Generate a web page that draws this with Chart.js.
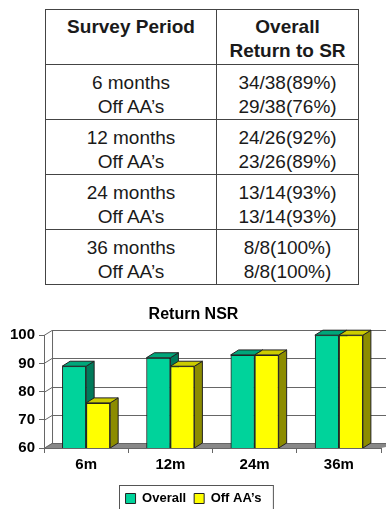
<!DOCTYPE html>
<html>
<head>
<meta charset="utf-8">
<script src="https://cdn.jsdelivr.net/npm/chart.js@4/dist/chart.umd.min.js"></script>
<style>
  html, body { margin: 0; padding: 0; background: #fff; }
  body { width: 386px; height: 509px; position: relative; overflow: hidden; font-family: "Liberation Sans", Arial, sans-serif; color: #1a1a1a; }
  table.survey { position: absolute; left: 45px; top: 9px; width: 313px; border-collapse: collapse; table-layout: fixed; }
  table.survey td, table.survey th { border: 1.5px solid #444; text-align: center; vertical-align: top; font-size: 19px; line-height: 24px; height: 55px; box-sizing: border-box; padding: 6px 0 0 0; }
  table.survey th { font-weight: bold; padding-top: 5px; }
  #wrap { position: absolute; left: 0; top: 290px; width: 386px; height: 225px; }
</style>
</head>
<body>
<table class="survey" id="tbl">
  <colgroup><col style="width:171px"><col style="width:142px"></colgroup>
  <thead><tr><th>Survey Period</th><th>Overall<br>Return to SR</th></tr></thead>
  <tbody></tbody>
</table>
<div id="wrap"><canvas id="c" width="386" height="225"></canvas></div>
<script>
// Survey table rows
const periods = ['6 months', '12 months', '24 months', '36 months'];
const overallCounts = ['34/38', '24/26', '13/14', '8/8'];
const offAACounts = ['29/38', '23/26', '13/14', '8/8'];

// Chart data (percent returning to NSR)
const categories = ['6m', '12m', '24m', '36m'];
const overall = [89, 92, 93, 100];
const offAAs = [76, 89, 93, 100];
const yTicks = [60, 70, 80, 90, 100];

const tbody = document.querySelector('#tbl tbody');
periods.forEach((p, i) => {
  const tr = document.createElement('tr');
  const a = document.createElement('td');
  a.innerHTML = p + '<br>Off AA\u2019s';
  const b = document.createElement('td');
  b.innerHTML = overallCounts[i] + '(' + overall[i] + '%)<br>' + offAACounts[i] + '(' + offAAs[i] + '%)';
  tr.appendChild(a); tr.appendChild(b);
  tbody.appendChild(tr);
});

// 3D depth projection
const DX = 8, DY = 5;

function poly(ctx, pts, fill, stroke) {
  ctx.beginPath();
  ctx.moveTo(pts[0][0], pts[0][1]);
  for (let i = 1; i < pts.length; i++) ctx.lineTo(pts[i][0], pts[i][1]);
  ctx.closePath();
  if (fill) { ctx.fillStyle = fill; ctx.fill(); }
  if (stroke) { ctx.strokeStyle = stroke; ctx.lineWidth = 1; ctx.stroke(); }
}

const wallPlugin = {
  id: 'wall3d',
  beforeDatasetsDraw(chart) {
    const {ctx, chartArea: a, scales: {y}} = chart;
    ctx.save();
    // floor
    const b = y.getPixelForValue(yTicks[0]);
    poly(ctx, [[a.left, b], [a.left + DX, b - DY], [a.right + DX + 20, b - DY], [a.right, b]], '#888', null);
    ctx.strokeStyle = '#666';
    ctx.lineWidth = 1;
    // back wall grid lines
    yTicks.forEach(v => {
      const py = Math.round(y.getPixelForValue(v)) + 0.5;
      ctx.beginPath();
      ctx.moveTo(a.left, py);
      ctx.lineTo(a.left + DX, py - DY);
      ctx.lineTo(a.right + DX + 20, py - DY);
      ctx.stroke();
    });
    // back wall left edge
    const top = y.getPixelForValue(yTicks[yTicks.length - 1]);
    ctx.beginPath();
    ctx.moveTo(a.left + DX + 0.5, top - DY);
    ctx.lineTo(a.left + DX + 0.5, b - DY);
    ctx.stroke();
    ctx.restore();
  },
  afterDatasetsDraw(chart) {
    // redraw each category's bars left to right so that every bar's
    // front face hides the side face of its left neighbour
    const {ctx, chartArea: a} = chart;
    const metas = chart.data.datasets.map((d, i) => chart.getDatasetMeta(i));
    ctx.save();
    ctx.beginPath();
    ctx.rect(a.left, 0, chart.width - a.left, a.bottom);
    ctx.clip();
    categories.forEach((c, j) => {
      metas.forEach((meta, i) => {
        const ds = chart.data.datasets[i];
        const el = meta.data[j];
        if (!el) return;
        el.draw(ctx, a);
        const {x, y, base, width} = el.getProps(['x', 'y', 'base', 'width'], true);
        const bot = Math.min(base, a.bottom);
        const l = x - width / 2, r = x + width / 2;
        poly(ctx, [[r, y], [r + DX, y - DY], [r + DX, bot - DY], [r, bot]], ds.sideColor, '#222');
        poly(ctx, [[l, y], [l + DX, y - DY], [r + DX, y - DY], [r, y]], ds.topColor, '#222');
      });
    });
    ctx.restore();
  },
  afterDraw(chart) {
    const lg = chart.legend;
    if (!lg || !lg.legendHitBoxes.length) return;
    const hb = lg.legendHitBoxes;
    const left = Math.min(...hb.map(h => h.left)) - 7;
    const right = Math.max(...hb.map(h => h.left + h.width)) + 11;
    const top = hb[0].top + hb[0].height / 2 - 14;
    const {ctx} = chart;
    ctx.save();
    ctx.strokeStyle = '#555';
    ctx.lineWidth = 1;
    ctx.strokeRect(Math.round(left) + 0.5, Math.round(top) + 0.5, right - left, chart.height + 10 - top);
    ctx.restore();
  }
};

new Chart(document.getElementById('c'), {
  type: 'bar',
  data: {
    labels: categories,
    datasets: [
      { label: 'Overall', data: overall, backgroundColor: '#00D39B', sideColor: '#007A5A', topColor: '#00A67A',
        borderColor: '#222', borderWidth: 1 },
      { label: 'Off AA\u2019s', data: offAAs, backgroundColor: '#FFFF00', sideColor: '#8C8C00', topColor: '#CCCC00',
        borderColor: '#222', borderWidth: 1 }
    ]
  },
  options: {
    responsive: false,
    animation: false,
    devicePixelRatio: 1,
    layout: { padding: { left: 6, right: 5, top: 0, bottom: 0 } },
    datasets: { bar: { categoryPercentage: 0.57, barPercentage: 1.0 } },
    plugins: {
      title: { display: true, text: 'Return NSR', color: '#000',
        font: { family: 'Liberation Sans', size: 16, weight: 'bold' }, padding: { top: 15, bottom: 11 } },
      legend: { position: 'bottom',
        labels: { color: '#000', boxWidth: 10, boxHeight: 10, padding: 8,
          font: { family: 'Liberation Sans', size: 13, weight: 'bold' } } },
      tooltip: { enabled: false }
    },
    scales: {
      y: {
        min: 60, max: 100,
        ticks: { stepSize: 10, color: '#000', padding: 4, font: { family: 'Liberation Sans', size: 15, weight: 'bold' } },
        grid: { drawOnChartArea: false, drawTicks: true, tickLength: 5, color: '#666' },
        border: { display: true, color: '#666' }
      },
      x: {
        afterFit(scale) { scale.height += 7; },
        ticks: { color: '#000', padding: 3, font: { family: 'Liberation Sans', size: 15, weight: 'bold' } },
        grid: { offset: true, drawOnChartArea: false, drawTicks: true, tickLength: 5, color: '#666' },
        border: { display: true, color: '#666' }
      }
    }
  },
  plugins: [wallPlugin]
});
</script>
</body>
</html>
